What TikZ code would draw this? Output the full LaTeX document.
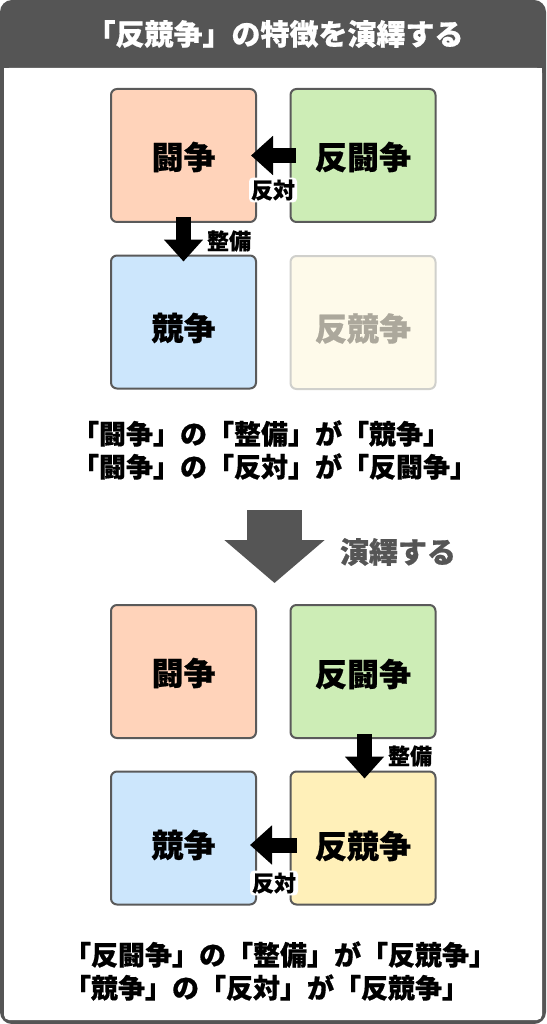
\documentclass[tikz,border=0pt]{standalone}
\usepackage{fontspec}
\setmainfont{Noto Sans CJK JP}[BoldFeatures={FakeBold=0.6}]
\usetikzlibrary{arrows.meta,calc}
\definecolor{frameGray}{HTML}{555555}
\definecolor{boxLine}{HTML}{5A5A5A}
\definecolor{cToso}{HTML}{FFD3BA}
\definecolor{cHanToso}{HTML}{CDEDB6}
\definecolor{cKyoso}{HTML}{CCE6FC}
\definecolor{cHanKyoso}{HTML}{FFF0B9}
\definecolor{cFadeFill}{HTML}{FEFAEA}
\definecolor{cFadeLine}{HTML}{D0D0CC}
\definecolor{cFadeText}{HTML}{ACA89C}
\begin{document}
\begin{tikzpicture}[x=1pt,y=-1pt,
  cbox/.style={draw=boxLine, line width=2pt, rounded corners=6pt,
    minimum width=145pt, minimum height=133pt, inner sep=0pt},
  btext/.style={inner sep=0pt, font=\fontsize{32}{32}\selectfont\bfseries},
  lab/.style={fill=white, rounded corners=4pt, inner sep=2pt,
    font=\fontsize{22}{22}\selectfont\bfseries},
  caption/.style={align=left, inner sep=0pt,
    font=\fontsize{27}{33}\selectfont\bfseries},
  blk/.style={line width=15pt, -{Triangle[width=38pt,length=22pt]}},
  bigarrow/.style={draw=frameGray, line width=55pt, -{Triangle[width=98pt,length=43pt]}}
]
\useasboundingbox (0,0) rectangle (546,1024);
% frame
\fill[frameGray, rounded corners=12pt] (0,0) rectangle (546,1024);
\fill[white, rounded corners=5pt] (4,68) rectangle (542,1020);
\fill[white] (4,68) rectangle (542,90);
\node[text=white, font=\fontsize{29}{29}\selectfont\bfseries] (title) at (275,34) {「反競争」の特徴を演繹する};

% upper grid
\node[cbox, fill=cToso] (a1) at (183.5,155.5) {};
\node[cbox, fill=cHanToso] (a2) at (363,155.5) {};
\node[cbox, fill=cKyoso] (a3) at (183.5,322) {};
\node[cbox, fill=cFadeFill, draw=cFadeLine] (a4) at (363,322.5) {};
\node[btext] (ta1) at ([yshift=-1.5pt]a1.center) {闘争};
\node[btext] (ta2) at ([yshift=-1.5pt]a2.center) {反闘争};
\node[btext] (ta3) at ([yshift=-6pt]a3.center) {競争};
\node[btext, text=cFadeText] (ta4) at ([yshift=-6pt]a4.center) {反競争};

\draw[blk] ([xshift=6pt]a2.west) -- ([xshift=-6pt]a1.east);
\draw[blk] ([yshift=6pt]a1.south) -- ([yshift=-7pt]a3.north);
\node[lab] (la1) at (273,190) {反対};
\node[lab] (la2) at (229,241) {整備};

\node[caption] (cap1) at (274.5,450) {「闘争」の「整備」が「競争」\\「闘争」の「反対」が「反闘争」};

% deduction arrow
\coordinate (ga) at (274.5,510);
\coordinate (gb) at (274.5,583);
\draw[bigarrow] (ga) -- (gb);
\node[text=frameGray, font=\fontsize{29}{29}\selectfont\bfseries] (ded) at (398,552) {演繹する};

% lower grid
\node[cbox, fill=cToso] (b1) at (183.5,671.5) {};
\node[cbox, fill=cHanToso] (b2) at (363,671.5) {};
\node[cbox, fill=cKyoso] (b3) at (183.5,838) {};
\node[cbox, fill=cHanKyoso] (b4) at (363,838) {};
\node[btext] (tb1) at ([yshift=-1.5pt]b1.center) {闘争};
\node[btext] (tb2) at ([yshift=-2.5pt]b2.center) {反闘争};
\node[btext] (tb3) at ([yshift=-7pt]b3.center) {競争};
\node[btext] (tb4) at ([yshift=-8pt]b4.center) {反競争};

\draw[blk] ([xshift=1.5pt,yshift=5pt]b2.south) -- ([xshift=1.5pt,yshift=-8pt]b4.north);
\draw[blk] ([xshift=7pt,yshift=-7pt]b4.west) -- ([xshift=-7pt,yshift=-7pt]b3.east);
\node[lab] (lb1) at (410,756) {整備};
\node[lab] (lb2) at (274,883) {反対};

\node[caption] (cap2) at (280,971) {「反闘争」の「整備」が「反競争」\\「競争」の「反対」が「反競争」};
\end{tikzpicture}
\end{document}
